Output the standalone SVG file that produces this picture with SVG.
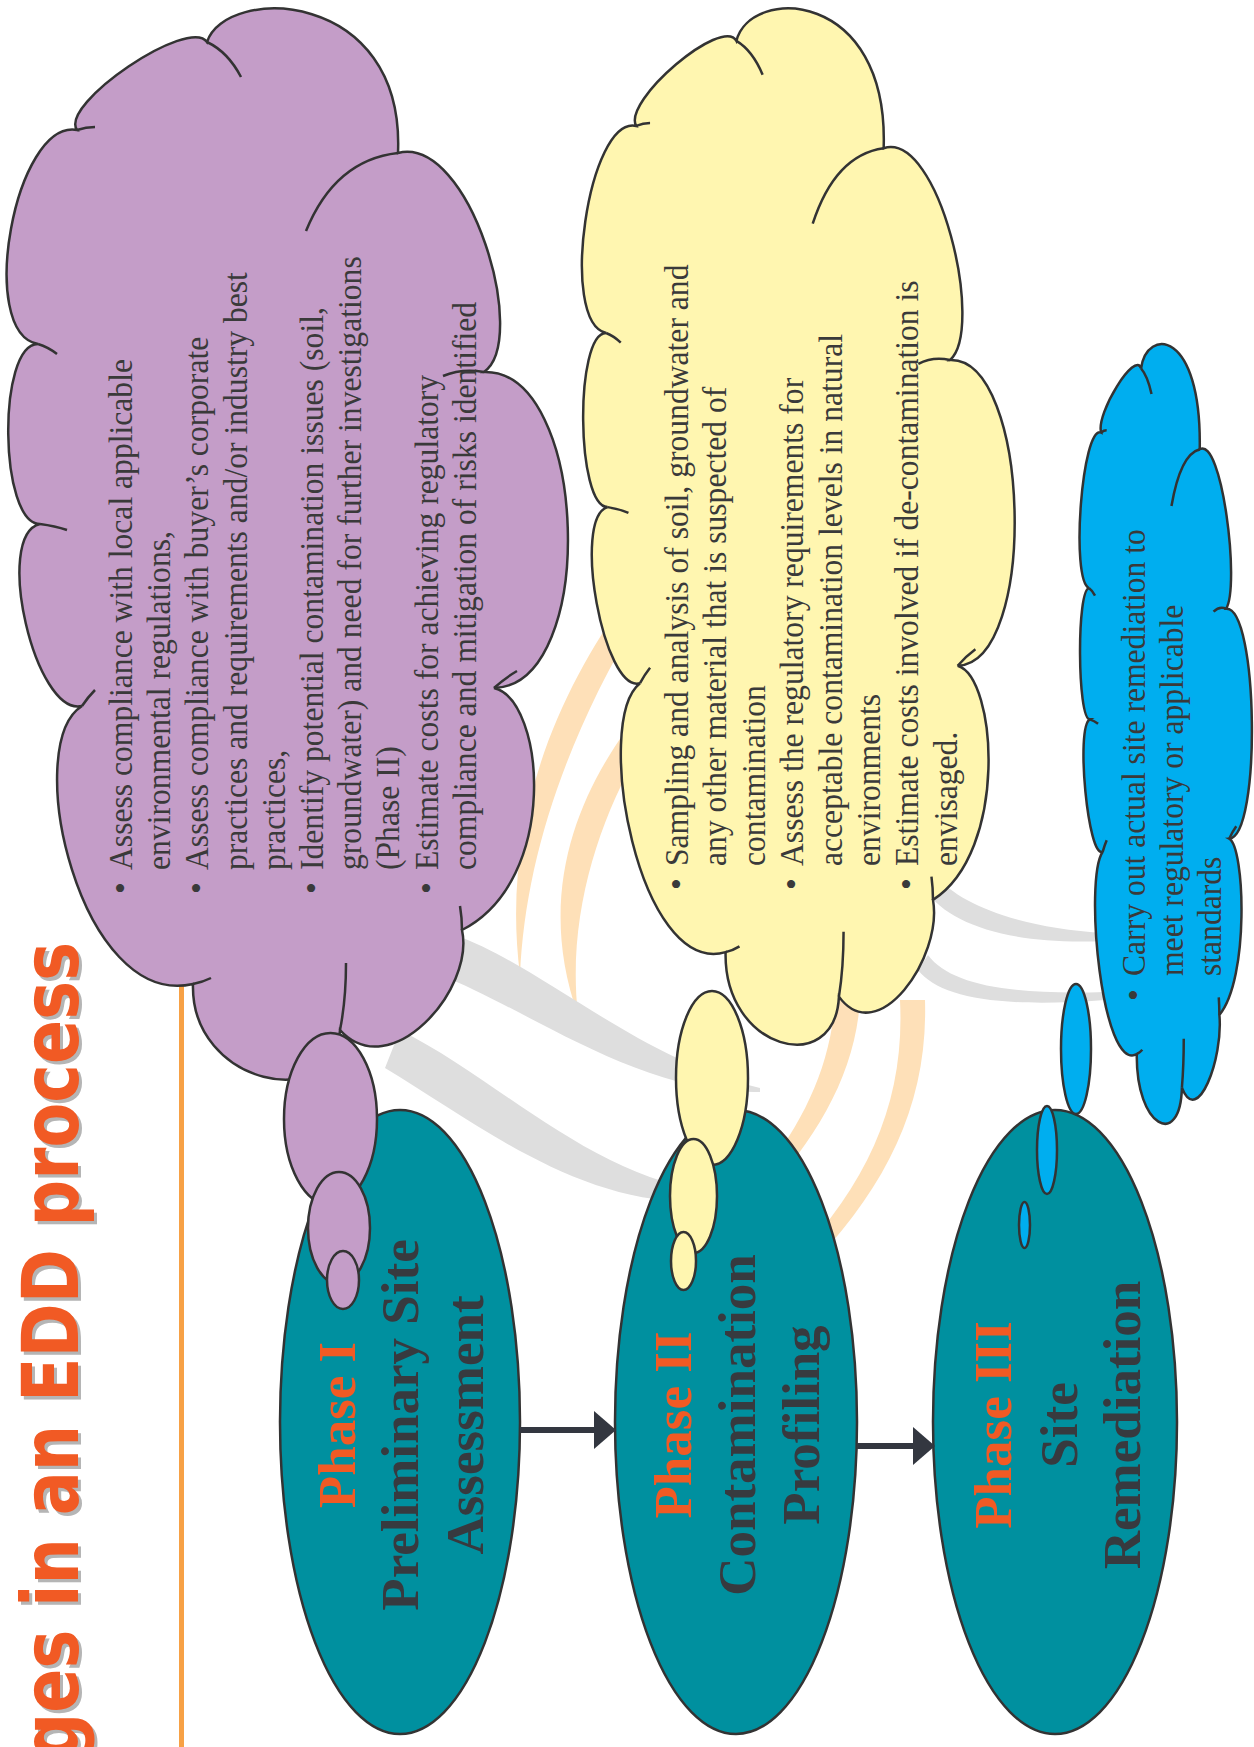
<svg xmlns="http://www.w3.org/2000/svg" xmlns:xlink="http://www.w3.org/1999/xlink" width="1254" height="1747" viewBox="0 0 1254 1747">
<style>
.outline{stroke:#333;stroke-width:2.5}
.tail{fill:none;stroke:#333;stroke-width:2.5}
.phase{fill:#00909F;stroke:#333;stroke-width:2.5}
.bub{stroke:#333;stroke-width:2.5}
.t{font-family:"Liberation Serif","Times New Roman",serif;font-size:34px;fill:#3a3a3a}
.b{font-family:"Liberation Serif","Times New Roman",serif;font-size:34px;fill:#3a3a3a;text-anchor:middle}
.ph{font-family:"Liberation Serif","Times New Roman",serif;font-size:53px;font-weight:bold;text-anchor:middle}
.or{fill:#F15A24}
.dk{fill:#373A3F}
.swo{fill:#FEE0B8}
.swg{fill:#DEDEDE}
.title{font-family:"DejaVu Sans",Verdana,sans-serif;font-size:78px;font-weight:bold;text-anchor:end}
</style>
<defs>
<g id="cloud">
<path class="outline" vector-effect="non-scaling-stroke" d="M77,130 C59,104 189,16 207,42 C225,-15 405,-12 398,153 C470,135 530,340 484,372 C589,369 599,685 494,688 C545,700 560,880 462,930 C475,990 390,1085 340,1030 C335,1115 190,1085 193,984 C80,1010 20,745 82,706 C35,717 -7,535 40,524 C-1,524 -3,344 38,344 C-24,333 15,119 77,130 Z"/>
<path class="tail" vector-effect="non-scaling-stroke" d="M77,130 Q86,127 95,127 M207,42 Q228,52 241,77 M306,231 Q335,160 398,153 M484,372 Q462,368 443,376 M494,688 Q505,678 517,671 M462,930 Q462,918 460,906 M340,1030 Q346,1000 346,963 M193,984 Q203,982 211,978 M82,706 Q88,697 95,690 M40,524 Q55,526 67,530 M38,344 Q48,347 57,354"/>
</g>
</defs>
<rect width="1254" height="1747" fill="#FFFFFF"/>
<g id="background">
<path class="swo" d="M625,600 C560,690 500,820 520,975 C525,860 565,740 640,615 Z"/>
<path class="swo" d="M650,700 C590,770 530,880 578,1015 C565,900 610,790 662,715 Z"/>
<path class="swo" d="M835,1000 C830,1080 790,1150 725,1215 L745,1215 C810,1150 855,1080 860,1000 Z"/>
<path class="swo" d="M900,1000 C905,1100 870,1180 795,1260 L818,1258 C890,1180 928,1100 925,1000 Z"/>
<path class="swg" d="M455,935 C540,965 640,1060 760,1088 L760,1092 C640,1095 530,1010 440,975 Z"/>
<path class="swg" d="M400,1030 C500,1080 600,1185 720,1192 L720,1200 C590,1215 480,1125 385,1068 Z"/>
<path class="swg" d="M935,875 C960,905 1020,928 1105,933 L1105,941 C1010,945 950,925 925,890 Z"/>
<path class="swg" d="M928,955 C950,985 1010,995 1105,992 L1105,1000 C1000,1008 940,998 918,970 Z"/>
<line x1="181.5" y1="900" x2="181.5" y2="1747" stroke="#F7A145" stroke-width="5"/>
</g>
<g id="title" class="title">
<text transform="translate(78,942) rotate(-90) scale(0.837,1)" x="-4" y="3" fill="#B5B5B5">ges in an EDD process</text>
<text transform="translate(78,942) rotate(-90) scale(0.837,1)" fill="#F15A24">ges in an EDD process</text>
</g>
<g id="phase1">
<ellipse class="phase" cx="400" cy="1422" rx="120" ry="312"/>
<text class="ph or" transform="translate(355,1425) rotate(-90)">Phase I</text>
<text class="ph dk" transform="translate(418,1425) rotate(-90)">Preliminary Site</text>
<text class="ph dk" transform="translate(483,1425) rotate(-90)">Assessment</text>
</g>
<g id="phase2">
<ellipse class="phase" cx="736" cy="1422" rx="121" ry="312"/>
<text class="ph or" transform="translate(691,1425) rotate(-90)">Phase II</text>
<text class="ph dk" transform="translate(755,1425) rotate(-90)">Contamination</text>
<text class="ph dk" transform="translate(819,1425) rotate(-90)">Profiling</text>
</g>
<g id="phase3">
<ellipse class="phase" cx="1055" cy="1422" rx="122" ry="312"/>
<text class="ph or" transform="translate(1011,1425) rotate(-90)">Phase III</text>
<text class="ph dk" transform="translate(1077,1425) rotate(-90)">Site</text>
<text class="ph dk" transform="translate(1140,1425) rotate(-90)">Remediation</text>
</g>
<g id="connectors" fill="#333740" stroke="#333740">
<line x1="520" y1="1430" x2="598" y2="1430" stroke-width="6"/>
<polygon points="594,1411 616,1430 594,1449" stroke="none"/>
<line x1="857" y1="1446" x2="915" y2="1446" stroke-width="6"/>
<polygon points="913,1427 935,1446 913,1465" stroke="none"/>
</g>
<g id="cloud1">
<use xlink:href="#cloud" href="#cloud" fill="#C49DC8"/>
<ellipse class="bub" cx="330.5" cy="1119" rx="46.5" ry="86" fill="#C49DC8"/>
<ellipse class="bub" cx="339" cy="1228" rx="31" ry="56" fill="#C49DC8"/>
<ellipse class="bub" cx="343" cy="1280" rx="16" ry="29" fill="#C49DC8"/>
<text class="b" transform="translate(132,888) rotate(-90)">•</text>
<text class="b" transform="translate(208.4,888) rotate(-90)">•</text>
<text class="b" transform="translate(323,888) rotate(-90)">•</text>
<text class="b" transform="translate(437.6,888) rotate(-90)">•</text>
<text class="t" transform="translate(132,870) rotate(-90) scale(0.93,1)">Assess compliance with local applicable</text>
<text class="t" transform="translate(170.2,870) rotate(-90) scale(0.93,1)">environmental regulations,</text>
<text class="t" transform="translate(208.4,870) rotate(-90) scale(0.93,1)">Assess compliance with buyer’s corporate</text>
<text class="t" transform="translate(246.6,870) rotate(-90) scale(0.93,1)">practices and requirements and/or industry best</text>
<text class="t" transform="translate(284.8,870) rotate(-90) scale(0.93,1)">practices,</text>
<text class="t" transform="translate(323,870) rotate(-90) scale(0.93,1)">Identify potential contamination issues (soil,</text>
<text class="t" transform="translate(361.2,870) rotate(-90) scale(0.93,1)">groundwater) and need for further investigations</text>
<text class="t" transform="translate(399.4,870) rotate(-90) scale(0.93,1)">(Phase II)</text>
<text class="t" transform="translate(437.6,870) rotate(-90) scale(0.93,1)">Estimate costs for achieving regulatory</text>
<text class="t" transform="translate(475.8,870) rotate(-90) scale(0.93,1)">compliance and mitigation of risks identified</text>
</g>
<g id="cloud2">
<use xlink:href="#cloud" href="#cloud" fill="#FFF6B0" transform="matrix(0.771 0 0 0.9674 576.8 0.2)"/>
<ellipse class="bub" cx="712" cy="1078" rx="36" ry="87" fill="#FFF6B0"/>
<ellipse class="bub" cx="693.5" cy="1196" rx="23.5" ry="57" fill="#FFF6B0"/>
<ellipse class="bub" cx="683.5" cy="1261" rx="12.5" ry="29" fill="#FFF6B0"/>
<text class="b" transform="translate(688,884) rotate(-90)">•</text>
<text class="b" transform="translate(803.2,884) rotate(-90)">•</text>
<text class="b" transform="translate(918.4,884) rotate(-90)">•</text>
<text class="t" transform="translate(688,866) rotate(-90) scale(0.93,1)">Sampling and analysis of soil, groundwater and</text>
<text class="t" transform="translate(726.4,866) rotate(-90) scale(0.93,1)">any other material that is suspected of</text>
<text class="t" transform="translate(764.8,866) rotate(-90) scale(0.93,1)">contamination</text>
<text class="t" transform="translate(803.2,866) rotate(-90) scale(0.93,1)">Assess the regulatory requirements for</text>
<text class="t" transform="translate(841.6,866) rotate(-90) scale(0.93,1)">acceptable contamination levels in natural</text>
<text class="t" transform="translate(880,866) rotate(-90) scale(0.93,1)">environments</text>
<text class="t" transform="translate(918.4,866) rotate(-90) scale(0.93,1)">Estimate costs involved if de-contamination is</text>
<text class="t" transform="translate(956.8,866) rotate(-90) scale(0.93,1)">envisaged.</text>
</g>
<g id="cloud3">
<use xlink:href="#cloud" href="#cloud" fill="#00AEEF" transform="matrix(0.3071 0 0 0.7279 1077.5 337.9)"/>
<ellipse class="bub" cx="1076" cy="1049" rx="15" ry="65" fill="#00AEEF"/>
<ellipse class="bub" cx="1047" cy="1150" rx="10" ry="44" fill="#00AEEF"/>
<ellipse class="bub" cx="1024.5" cy="1225" rx="5.5" ry="23" fill="#00AEEF"/>
<text class="b" transform="translate(1145,995) rotate(-90)">•</text>
<text class="t" transform="translate(1145,976) rotate(-90) scale(0.93,1)">Carry out actual site remediation to</text>
<text class="t" transform="translate(1183,976) rotate(-90) scale(0.93,1)">meet regulatory or applicable</text>
<text class="t" transform="translate(1221,976) rotate(-90) scale(0.93,1)">standards</text>
</g>
</svg>
